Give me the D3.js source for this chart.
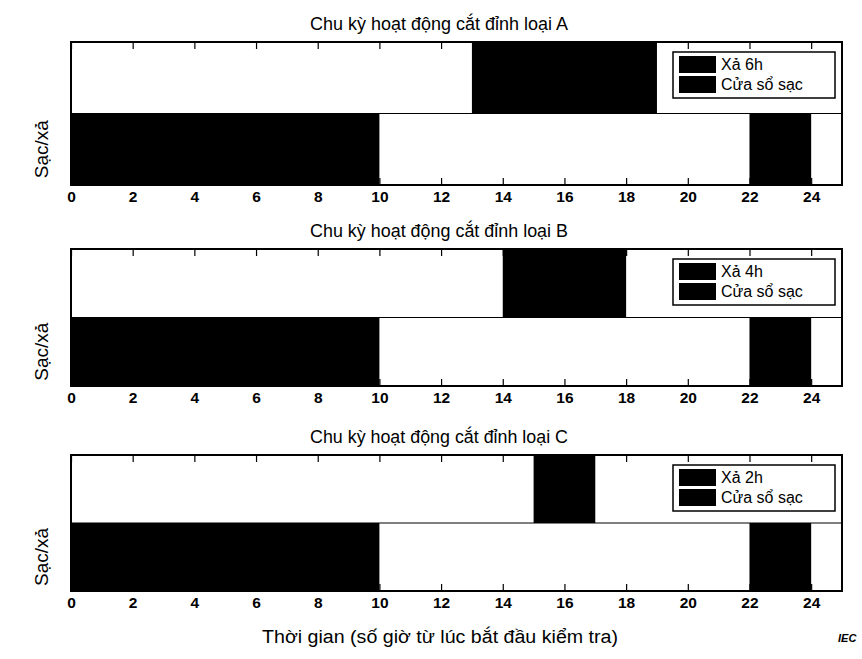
<!DOCTYPE html>
<html>
<head>
<meta charset="utf-8">
<script src="https://cdn.jsdelivr.net/npm/d3@7"></script>
<style>
  html, body { margin: 0; padding: 0; background: #fff; }
  svg { display: block; }
  text { font-family: "Liberation Sans", Arial, sans-serif; fill: #000; }
</style>
</head>
<body>
<svg id="chart" width="862" height="659"></svg>
<script>
// ---------- data ----------
const cycleTitles = [
  "Chu kỳ hoạt động cắt đỉnh loại A",
  "Chu kỳ hoạt động cắt đỉnh loại B",
  "Chu kỳ hoạt động cắt đỉnh loại C"
];
const dischargeStart = [13, 14, 15];
const dischargeEnd   = [19, 18, 17];
const dischargeLabels = ["Xả 6h", "Xả 4h", "Xả 2h"];
const chargeLabel = "Cửa sổ sạc";
const chargeStart = [0, 22];
const chargeEnd   = [10, 24];
const xTicks = [0, 2, 4, 6, 8, 10, 12, 14, 16, 18, 20, 22, 24];
const yLabel = "Sạc/xả";
const xLabel = "Thời gian (số giờ từ lúc bắt đầu kiểm tra)";

// ---------- layout ----------
const svg = d3.select("#chart");
const panels = [
  { top: 42, bottom: 185 },
  { top: 249, bottom: 386 },
  { top: 455, bottom: 591 }
];
const x = d3.scaleLinear().domain([0, 25]).range([71, 842]);

panels.forEach((p, i) => {
  const y = d3.scaleLinear().domain([0, 2]).range([p.bottom, p.top]);
  const g = svg.append("g");

  // title
  g.append("text")
    .attr("x", 439).attr("y", p.top - 12)
    .attr("text-anchor", "middle")
    .style("font-size", "17.5px")
    .attr("textLength", 258).attr("lengthAdjust", "spacingAndGlyphs")
    .text(cycleTitles[i]);

  // discharge bar (upper row)
  g.append("rect")
    .attr("x", x(dischargeStart[i]))
    .attr("y", y(2))
    .attr("width", x(dischargeEnd[i]) - x(dischargeStart[i]))
    .attr("height", y(1) - y(2))
    .attr("fill", "#000");

  // charge windows (lower row)
  g.selectAll("rect.charge")
    .data(chargeStart.map((s, k) => ({ s, e: chargeEnd[k] })))
    .enter().append("rect")
    .attr("class", "charge")
    .attr("x", d => x(d.s))
    .attr("y", y(1))
    .attr("width", d => x(d.e) - x(d.s))
    .attr("height", y(0) - y(1))
    .attr("fill", "#000");

  // middle separator
  g.append("line")
    .attr("x1", x(0)).attr("x2", x(25))
    .attr("y1", y(1)).attr("y2", y(1))
    .attr("stroke", "#000").attr("stroke-width", 1.2);

  // bottom axis (ticks inward)
  const ax = g.append("g")
    .attr("transform", `translate(0,${p.bottom})`)
    .call(d3.axisBottom(x).tickValues(xTicks).tickSize(-7).tickPadding(6).tickFormat(d3.format("d")));
  ax.select(".domain").remove();
  ax.selectAll(".tick line").attr("stroke", "#000").attr("stroke-width", 1.2);
  ax.selectAll(".tick text")
    .style("font-family", "'Liberation Sans', Arial, sans-serif")
    .style("font-size", "15.5px").style("font-weight", "bold");

  // top axis (ticks inward, no labels)
  const axT = g.append("g")
    .attr("transform", `translate(0,${p.top})`)
    .call(d3.axisTop(x).tickValues(xTicks).tickSize(-7).tickFormat(""));
  axT.select(".domain").remove();
  axT.selectAll(".tick line").attr("stroke", "#000").attr("stroke-width", 1.2);

  // frame
  g.append("rect")
    .attr("x", x(0)).attr("y", y(2))
    .attr("width", x(25) - x(0)).attr("height", y(0) - y(2))
    .attr("fill", "none").attr("stroke", "#000").attr("stroke-width", 2);

  // y label
  g.append("text")
    .attr("transform", `translate(48,${y(0.5)}) rotate(-90)`)
    .attr("text-anchor", "middle")
    .style("font-size", "19px")
    .text(yLabel);

  // legend
  const lg = g.append("g").attr("transform", `translate(673,${p.top + 10})`);
  lg.append("rect")
    .attr("width", 162).attr("height", 46)
    .attr("fill", "#fff").attr("stroke", "#000").attr("stroke-width", 1.5);
  [dischargeLabels[i], chargeLabel].forEach((lab, k) => {
    lg.append("rect")
      .attr("x", 6).attr("y", 4 + k * 20)
      .attr("width", 37).attr("height", 17)
      .attr("fill", "#000");
    lg.append("text")
      .attr("x", 48).attr("y", 18 + k * 20)
      .style("font-size", "16px")
      .text(lab);
  });
});

// x label
svg.append("text")
  .attr("x", 440).attr("y", 643)
  .attr("text-anchor", "middle")
  .style("font-size", "18px")
  .attr("textLength", 356).attr("lengthAdjust", "spacingAndGlyphs")
  .text(xLabel);

// IEC mark
svg.append("text")
  .attr("x", 838).attr("y", 642)
  .style("font-size", "11px").style("font-weight", "bold").style("font-style", "italic")
  .text("IEC");
</script>
</body>
</html>
